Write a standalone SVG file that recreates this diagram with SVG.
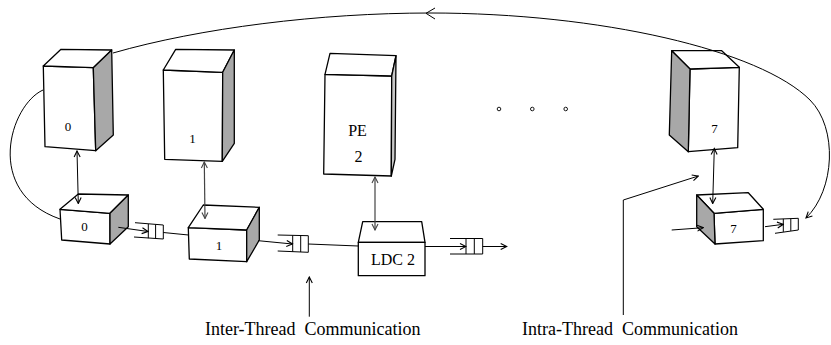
<svg xmlns="http://www.w3.org/2000/svg" width="831" height="345" viewBox="0 0 831 345">
<defs>
<marker id="v" viewBox="0 0 8 8" refX="7" refY="4" markerWidth="8" markerHeight="8" markerUnits="userSpaceOnUse" orient="auto-start-reverse">
<path d="M1,1 L7,4 L1,7" fill="none" stroke="#000" stroke-width="1.1"/>
</marker>
<marker id="vg" viewBox="0 0 8 8" refX="7" refY="4" markerWidth="8" markerHeight="8" markerUnits="userSpaceOnUse" orient="auto-start-reverse">
<path d="M1,1 L7,4 L1,7" fill="none" stroke="#444" stroke-width="1.1"/>
</marker>
</defs>
<style>
.box{fill:#fff;stroke:#000;stroke-width:1.3;stroke-linejoin:round}
.shade{fill:#a8a8a8;stroke:#000;stroke-width:1.3;stroke-linejoin:round}
.ln{fill:none;stroke:#000;stroke-width:1}
.gl{fill:none;stroke:#444;stroke-width:1.2}
.q{fill:none;stroke:#000;stroke-width:1}
text{font-family:"Liberation Serif","Times New Roman",serif;fill:#000;text-anchor:middle}
.s{font-size:13px}
.m{font-size:16px}
.l{font-size:18px;text-anchor:start}
</style>
<rect width="831" height="345" fill="#fff"/>

<g id="pe0">
<polygon class="box" points="43.3,66 93.3,67.7 95.7,150.7 45,146.7"/>
<polygon class="box" points="43.3,66 61,49.3 111.7,50 93.3,67.7"/>
<polygon class="shade" points="93.3,67.7 111.7,50 113.3,135 95.7,150.7"/>
<text class="s" x="68" y="131">0</text>
</g>
<g id="pe1">
<polygon class="box" points="163.3,70 222.7,72.3 222.3,161.3 164.7,159.3"/>
<polygon class="box" points="163.3,70 175.7,49.3 234.3,50 222.7,72.3"/>
<polygon class="shade" points="222.7,72.3 234.3,50 234.3,143.3 222.3,161.3"/>
<text class="s" x="192.5" y="143">1</text>
</g>
<g id="pe2">
<polygon class="box" points="325,74.3 391.7,76 391.3,176 323.7,174"/>
<polygon class="box" points="325,74.3 330,53.3 396,55.7 391.7,76"/>
<polygon class="shade" points="391.7,76 396,55.7 395,159.3 391.3,176" style="fill:#c8c8c8"/>
<text class="m" x="357.5" y="136">PE</text>
<text class="m" x="358.5" y="162">2</text>
</g>
<g id="pe7">
<polygon class="box" points="690,69 739.3,67.3 737.7,147.7 688.3,151.7"/>
<polygon class="box" points="690,69 671.7,50.7 721.7,50.7 739.3,67.3"/>
<polygon class="shade" points="690,69 671.7,50.7 669.3,135 688.3,151.7"/>
<text class="s" x="714.5" y="133">7</text>
</g>

<g id="ldc0">
<polygon class="box" points="60,209.3 110,213.3 110,244 61.7,240"/>
<polygon class="box" points="60,209.3 78.3,194 128.3,195 110,213.3"/>
<polygon class="shade" points="110,213.3 128.3,195 128.3,226.7 110,244"/>
<text class="s" x="84.5" y="231">0</text>
</g>
<g id="ldc1">
<polygon class="box" points="188.3,227.7 246.7,230 246.7,261.7 189.3,259"/>
<polygon class="box" points="188.3,227.7 203.3,205 259.3,207.3 246.7,230"/>
<polygon class="shade" points="246.7,230 259.3,207.3 259.3,240 246.7,261.7"/>
<text class="s" x="219" y="250">1</text>
</g>
<g id="ldc2">
<polygon class="box" points="358.3,242.3 362.7,221.7 421.7,221.7 425,242.3"/>
<rect class="box" x="358.3" y="242.3" width="66.7" height="33.4"/>
<text class="m" x="393" y="265">LDC 2</text>
</g>
<g id="ldc7">
<polygon class="box" points="714,213.3 763.3,209.3 763.3,240.7 715,244"/>
<polygon class="box" points="714,213.3 696.7,195 748.3,192.7 763.3,209.3"/>
<polygon class="shade" points="714,213.3 696.7,195 696.7,226.7 715,244"/>
<text class="s" x="733.5" y="233">7</text>
</g>

<g id="queue01">
<path class="q" d="M135,222.7 L163.3,225 L163.3,239 L134,237 M148.3,224 L148.3,238.2 M155.6,224.5 L155.6,238.6"/>
</g>
<g id="queue12">
<path class="q" d="M277.7,235 L308.3,235.7 L308.3,252.3 L277.7,251 M292.7,235.4 L292.7,251.6 M300.7,235.5 L300.7,252"/>
</g>
<g id="queue2out">
<path class="q" d="M450,238.5 L482.7,238.5 L482.7,254 L450,254 M466,238.5 L466,254 M474.3,238.5 L474.3,254"/>
</g>
<g id="queue7">
<path class="q" d="M773.3,219.3 L798.3,218.3 L798.3,230 L775,233.3 M783.3,218.9 L783.3,231.9 M790.8,218.6 L790.8,230.9"/>
</g>

<g id="dots">
<circle cx="499" cy="109" r="1.8" fill="#fff" stroke="#000" stroke-width="0.9"/>
<circle cx="532.3" cy="109" r="1.8" fill="#fff" stroke="#000" stroke-width="0.9"/>
<circle cx="565.7" cy="109" r="1.8" fill="#fff" stroke="#000" stroke-width="0.9"/>
</g>

<g id="connectors">
<path class="ln" d="M113,53 C200,28 320,13 430,13 C600,13 760,50 810,100 C838,128 835,190 806,218" marker-end="url(#v)"/>
<path class="ln" d="M435,8 L426,13.3 L435,19"/>
<path class="ln" d="M43,90 C10,105 -17,192 60,219"/>
<line class="ln" x1="77" y1="151" x2="78.3" y2="203.5" marker-start="url(#v)" marker-end="url(#v)"/>
<line class="gl" x1="204.3" y1="162" x2="205" y2="218.5" marker-start="url(#vg)" marker-end="url(#vg)"/>
<line class="gl" x1="375" y1="177" x2="375" y2="230" marker-start="url(#vg)" marker-end="url(#vg)"/>
<line class="ln" x1="714.3" y1="148.5" x2="712.7" y2="203.5" marker-start="url(#v)" marker-end="url(#v)"/>
<line class="ln" x1="118.3" y1="227.3" x2="148" y2="231.5" marker-end="url(#v)"/>
<line class="ln" x1="163.3" y1="232.5" x2="188.5" y2="235"/>
<line class="ln" x1="258.3" y1="240.7" x2="292.5" y2="244" marker-end="url(#v)"/>
<line class="ln" x1="308.3" y1="244" x2="358.3" y2="246"/>
<line class="ln" x1="425" y1="246.5" x2="466" y2="246.5" marker-end="url(#v)"/>
<line class="ln" x1="482.7" y1="246.5" x2="506.7" y2="246.5" marker-end="url(#v)"/>
<line class="ln" x1="671.7" y1="230" x2="703.3" y2="227.7" marker-end="url(#v)"/>
<line class="ln" x1="765" y1="226.7" x2="783.3" y2="224.3" marker-end="url(#v)"/>
<line class="ln" x1="309.3" y1="316.7" x2="309.3" y2="277" marker-end="url(#v)"/>
<polyline class="ln" points="623.3,315 623.3,200 698.3,176" marker-end="url(#v)"/>
</g>

<g id="labels">
<text class="l" x="205" y="335" xml:space="preserve">Inter-Thread  Communication</text>
<text class="l" x="522" y="335" xml:space="preserve">Intra-Thread  Communication</text>
</g>
</svg>
